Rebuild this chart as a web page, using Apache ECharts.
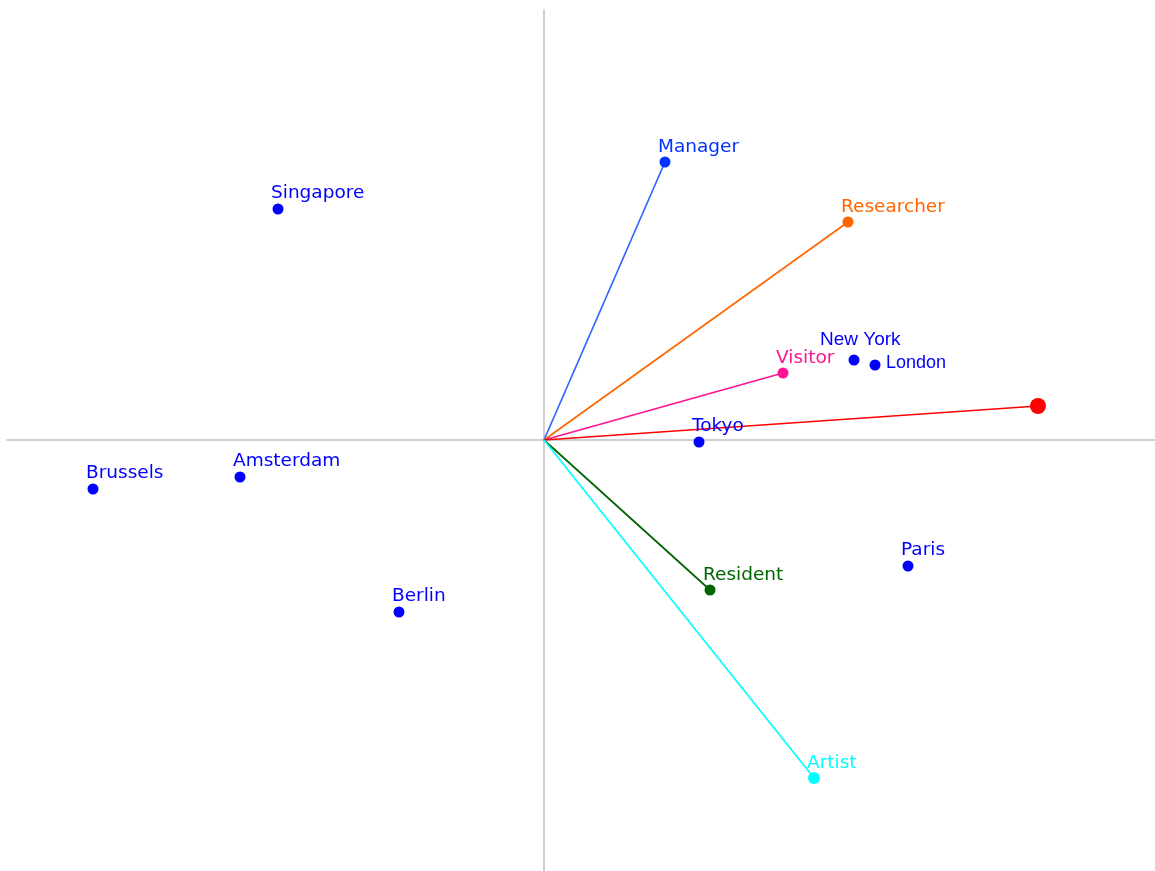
<!DOCTYPE html>
<html>
<head>
<meta charset="utf-8">
<title>Biplot</title>
<script src="https://cdn.jsdelivr.net/npm/echarts@6/dist/echarts.min.js"></script>
<style>
  html, body { margin: 0; padding: 0; background: #fff; }
  #chart { width: 1155px; height: 871px; }
</style>
</head>
<body>
<div id="chart"></div>
<script>
// variables (arrows drawn from the origin)
const varNames = ['Manager', 'Researcher', 'Visitor', '', 'Resident', 'Artist']
const varX = [1.21, 3.04, 2.39, 4.94, 1.66, 2.70]
const varY = [2.78, 2.18, 0.67, 0.34, -1.50, -3.38]

// cities (points)
const cityNames = ['Singapore', 'New York', 'London', 'Tokyo', 'Brussels', 'Amsterdam', 'Berlin', 'Paris']
const cityX = [-2.66, 3.10, 3.31, 1.55, -4.51, -3.04, -1.45, 3.64]
const cityY = [2.31, 0.80, 0.75, -0.02, -0.49, -0.37, -1.72, -1.26]

// styling
const varLineColors = ['#3366ff', '#ff6600', '#ff1493', '#ff0000', '#006400', '#00ffff']
const varDotColors = ['#0033ff', '#ff6600', '#ff1493', '#ff0000', '#006400', '#00ffff']
const varDotSizes = [11, 11, 11, 16, 11, 12]
const labelTweaks = {
  'New York': { offset: [-34, -20], fontFamily: 'Liberation Sans', fontSize: 19 },
  'London': { offset: [11, -2], fontFamily: 'Liberation Sans', fontSize: 18 }
}
const font = 'DejaVu Sans'

const chart = echarts.init(document.getElementById('chart'))

const series = []

varNames.forEach((name, i) => {
  series.push({
    type: 'line',
    data: [[0, 0], [varX[i], varY[i]]],
    symbol: 'circle',
    symbolSize: (v, p) => (p.dataIndex === 0 ? 0 : varDotSizes[i]),
    lineStyle: { color: varLineColors[i], width: 1.7 },
    itemStyle: { color: varDotColors[i], opacity: 1 },
    label: {
      show: true,
      position: 'inside',
      align: 'left',
      verticalAlign: 'middle',
      offset: [-7, -15],
      color: varDotColors[i],
      fontFamily: font,
      fontSize: 18.5,
      formatter: p => (p.dataIndex === 0 ? '' : name)
    },
    animation: false,
    silent: true
  })
})

series.push({
  type: 'scatter',
  data: cityNames.map((n, i) => ({
    value: [cityX[i], cityY[i]],
    name: n,
    label: labelTweaks[n] || {}
  })),
  symbol: 'circle',
  symbolSize: 11,
  itemStyle: { color: '#0000ff', opacity: 1 },
  label: {
    show: true,
    position: 'inside',
    align: 'left',
    verticalAlign: 'middle',
    offset: [-7, -16],
    color: '#0000ff',
    fontFamily: font,
    fontSize: 18.5,
    formatter: p => p.name
  },
  z: 3,
  animation: false,
  silent: true
})

chart.setOption({
  backgroundColor: '#ffffff',
  grid: { left: 7, right: 0, top: 10, bottom: 0 },
  xAxis: {
    type: 'value',
    min: -5.37,
    max: 6.11,
    axisLine: { onZero: true, lineStyle: { color: '#c0c0c0', width: 1.5 } },
    axisTick: { show: false },
    axisLabel: { show: false },
    splitLine: { show: false }
  },
  yAxis: {
    type: 'value',
    min: -4.31,
    max: 4.30,
    axisLine: { show: true, onZero: true, lineStyle: { color: '#c0c0c0', width: 1.5 } },
    axisTick: { show: false },
    axisLabel: { show: false },
    splitLine: { show: false }
  },
  series: series
})
</script>
</body>
</html>
